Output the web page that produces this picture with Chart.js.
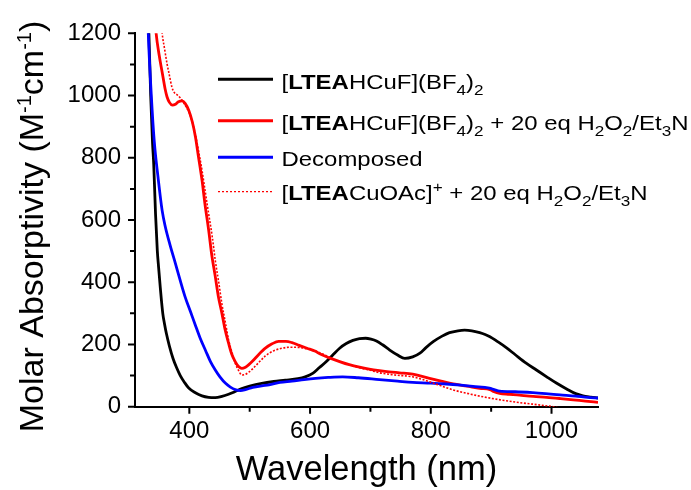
<!DOCTYPE html>
<html><head><meta charset="utf-8">
<script src="https://cdn.jsdelivr.net/npm/chart.js@4.4.1/dist/chart.umd.min.js"></script>
<style>html,body{margin:0;padding:0;background:#fff;}canvas{display:block;}</style>
</head><body>
<canvas id="c" width="691" height="490"></canvas>
<script>
// ---- data ----
const blackWl = [328,333,336,339,341,344,347,349,352,356,359,362,367,373,379,385,392,399,410,421,432,443,454,465,476,487,500,520,540,559,580,592,605,615,627,638,649,660,671,682,692,701,710,720,732,745,757,770,782,792,804,818,831,845,856,868,881,890,898,910,925,940,958,975,992,1008,1025,1040,1052,1065,1077];
const blackVal = [1400,1200,1000,850,780,620,500,450,380,300,265,235,195,155,125,100,78,60,45,35,30,29,33,40,49,58,66,75,81,85,90,96,108,125,145,167,188,203,213,219,220,217,211,199,182,166,155,160,172,190,209,226,238,244,246,244,238,232,225,210,190,167,140,118,96,76,57,42,35,31,28];

const redWl = [340,345,350,355,360,363,367,372,377,382,388,393,399,405,410,415,421,426,432,437,443,448,454,459,465,470,476,482,487,493,499,504,515,526,537,548,560,570,582,595,609,616,632,649,665,682,698,715,731,748,770,784,798,817,837,860,881,898,905,914,930,947,970,992,1015,1036,1056,1077];
const redVal = [1320,1200,1130,1075,1020,996,978,969,972,980,983,975,953,915,868,805,728,650,568,490,418,355,300,250,204,170,145,128,123,127,136,145,168,188,202,210,210,206,197,188,178,170,157,145,135,127,121,116,112,109,105,98,91,82,73,66,59,55,48,43,40,37,33,30,26,22,18,14];

const blueWl = [328,332,337,342,348,355,360,368,377,385,393,402,410,418,427,435,443,451,460,468,476,485,493,505,520,532,550,570,590,609,630,654,680,715,745,770,800,826,850,870,897,905,914,940,969,990,1014,1040,1060,1077];
const blueVal = [1450,1200,1000,850,740,630,580,520,460,405,353,305,262,220,180,145,118,95,75,63,55,52,55,62,67,70,78,82,87,91,94,96,93,87,82,78,76,73,69,65,60,55,50,48,45,42,38,34,30,28];

const dotWl = [350,355,359,363,367,371,375,380,386,393,399,404,410,415,421,426,432,438,443,449,454,460,465,471,476,482,487,493,499,504,515,526,540,554,565,576,590,605,620,640,660,682,700,715,740,770,784,798,817,837,860,881,903,925,948,970,990,1003,1020];
const dotVal = [1320,1200,1150,1103,1065,1028,1010,1002,990,969,948,921,875,825,760,696,620,546,470,396,330,268,215,172,140,115,102,104,112,120,142,163,180,188,191,191,188,181,170,152,138,125,117,109,102,96,89,80,67,54,43,34,26,19,13,8,3,0,-8];

const xMajorTicks = [400, 600, 800, 1000];
const xMinorTicks = [500, 700, 900];
const yMajorTicks = [0, 200, 400, 600, 800, 1000, 1200];
const yMinorTicks = [100, 300, 500, 700, 900, 1100];

const legendLabels = [
  [{t:'['},{t:'LTEA',b:1},{t:'HCuF](BF'},{t:'4',sub:1},{t:')'},{t:'2',sub:1}],
  [{t:'['},{t:'LTEA',b:1},{t:'HCuF](BF'},{t:'4',sub:1},{t:')'},{t:'2',sub:1},{t:' + 20 eq H'},{t:'2',sub:1},{t:'O'},{t:'2',sub:1},{t:'/Et'},{t:'3',sub:1},{t:'N'}],
  [{t:'Decomposed'}],
  [{t:'['},{t:'LTEA',b:1},{t:'CuOAc]'},{t:'+',sup:1},{t:' + 20 eq H'},{t:'2',sub:1},{t:'O'},{t:'2',sub:1},{t:'/Et'},{t:'3',sub:1},{t:'N'}]
];
const yTitleSegs = [{t:'Molar Absorptivity (M'},{t:'-1',sup:1},{t:'cm'},{t:'-1',sup:1},{t:')'}];
const xTitle = 'Wavelength (nm)';

const FF = '"Liberation Sans", Arial, Helvetica, sans-serif';
const pts = (w, v) => w.map((x, i) => ({x: x, y: v[i]}));

function drawSegs(ctx, segs, size, x0, y0, subSize, subDy, supDy) {
  let x = x0;
  for (const s of segs) {
    const small = s.sub || s.sup;
    const sz = small ? subSize : size;
    ctx.font = (s.b ? 'bold ' : '') + sz + 'px ' + FF;
    const dy = s.sub ? subDy : (s.sup ? supDy : 0);
    ctx.fillText(s.t, x, y0 + dy);
    x += ctx.measureText(s.t).width;
  }
  return x - x0;
}
function measureSegs(ctx, segs, size, subSize) {
  let w = 0;
  for (const s of segs) {
    const sz = (s.sub || s.sup) ? subSize : size;
    ctx.font = (s.b ? 'bold ' : '') + sz + 'px ' + FF;
    w += ctx.measureText(s.t).width;
  }
  return w;
}

const decor = {
  id: 'decor',
  afterDraw(chart) {
    const ctx = chart.ctx, xs = chart.scales.x, ys = chart.scales.y;
    const a = chart.chartArea;
    ctx.save();
    // tick marks
    ctx.strokeStyle = '#000'; ctx.lineWidth = 2;
    ctx.beginPath();
    xMajorTicks.forEach(v => { const p = xs.getPixelForValue(v); ctx.moveTo(p, a.bottom); ctx.lineTo(p, a.bottom + 7); });
    xMinorTicks.forEach(v => { const p = xs.getPixelForValue(v); ctx.moveTo(p, a.bottom); ctx.lineTo(p, a.bottom + 5); });
    yMajorTicks.forEach(v => { const p = ys.getPixelForValue(v); ctx.moveTo(a.left - 7, p); ctx.lineTo(a.left, p); });
    yMinorTicks.forEach(v => { const p = ys.getPixelForValue(v); ctx.moveTo(a.left - 5, p); ctx.lineTo(a.left, p); });
    ctx.stroke();

    // legend
    const rows = [
      {y: 79.3, base: 89, color: '#000000', w: 3, dash: []},
      {y: 120.7, base: 129.5, color: '#ff0000', w: 3, dash: []},
      {y: 157.3, base: 165.5, color: '#0000ff', w: 3, dash: []},
      {y: 191.7, base: 200, color: '#ff0000', w: 1.2, dash: [2, 2]}
    ];
    rows.forEach((r, i) => {
      ctx.strokeStyle = r.color; ctx.lineWidth = r.w; ctx.setLineDash(r.dash);
      ctx.beginPath(); ctx.moveTo(218, r.y); ctx.lineTo(273, r.y); ctx.stroke();
      ctx.setLineDash([]);
      ctx.save();
      ctx.translate(281.5, r.base);
      ctx.scale(1.14, 1);
      ctx.fillStyle = '#000'; ctx.textBaseline = 'alphabetic'; ctx.textAlign = 'left';
      drawSegs(ctx, legendLabels[i], 21, 0, 0, 15, 6, -8);
      ctx.restore();
    });

    // y title
    ctx.save();
    ctx.fillStyle = '#000'; ctx.textBaseline = 'alphabetic'; ctx.textAlign = 'left';
    ctx.translate(43, 226.5);
    ctx.rotate(-Math.PI / 2);
    const tw = measureSegs(ctx, yTitleSegs, 34, 20);
    drawSegs(ctx, yTitleSegs, 34, -tw / 2, 0, 20, 0, -12);
    ctx.restore();
    ctx.restore();
  }
};

new Chart(document.getElementById('c'), {
  type: 'line',
  data: {
    datasets: [
      {label: 'black', data: pts(blackWl, blackVal), borderColor: '#000000', borderWidth: 2.8, order: 3},
      {label: 'red', data: pts(redWl, redVal), borderColor: '#ff0000', borderWidth: 2.8, order: 2},
      {label: 'blue', data: pts(blueWl, blueVal), borderColor: '#0000ff', borderWidth: 2.8, order: 1},
      {label: 'dotted', data: pts(dotWl, dotVal), borderColor: '#ff0000', borderWidth: 1.6, borderDash: [2, 1.6], order: 0}
    ]
  },
  options: {
    responsive: false, animation: false, devicePixelRatio: 1,
    datasets: {line: {pointRadius: 0, fill: false, cubicInterpolationMode: 'monotone'}},
    layout: {padding: {left: 0, right: 93, top: 33.3, bottom: 0}},
    plugins: {legend: {display: false}, tooltip: {enabled: false}},
    scales: {
      x: {
        type: 'linear', min: 310, max: 1077,
        afterBuildTicks: s => { s.ticks = xMajorTicks.map(v => ({value: v})); },
        afterFit: s => { s.height = 83.3; },
        ticks: {font: {family: FF, size: 24}, color: '#000', padding: 3, maxRotation: 0, autoSkip: false, callback: v => String(v)},
        grid: {display: true, drawOnChartArea: false, drawTicks: true, tickLength: 7, tickColor: 'rgba(0,0,0,0)'},
        border: {display: true, color: '#000', width: 2},
        title: {display: true, text: xTitle, color: '#000', font: {family: FF, size: 34.5, lineHeight: 1}, padding: {top: 0, bottom: 2}}
      },
      y: {
        type: 'linear', min: 0, max: 1200,
        afterBuildTicks: s => { s.ticks = yMajorTicks.map(v => ({value: v})); },
        afterFit: s => { s.width = 135; },
        ticks: {font: {family: FF, size: 24}, color: '#000', padding: 7, autoSkip: false, callback: v => String(v)},
        grid: {display: true, drawOnChartArea: false, drawTicks: true, tickLength: 7, tickColor: 'rgba(0,0,0,0)'},
        border: {display: true, color: '#000', width: 2}
      }
    }
  },
  plugins: [decor]
});
</script>
</body></html>
